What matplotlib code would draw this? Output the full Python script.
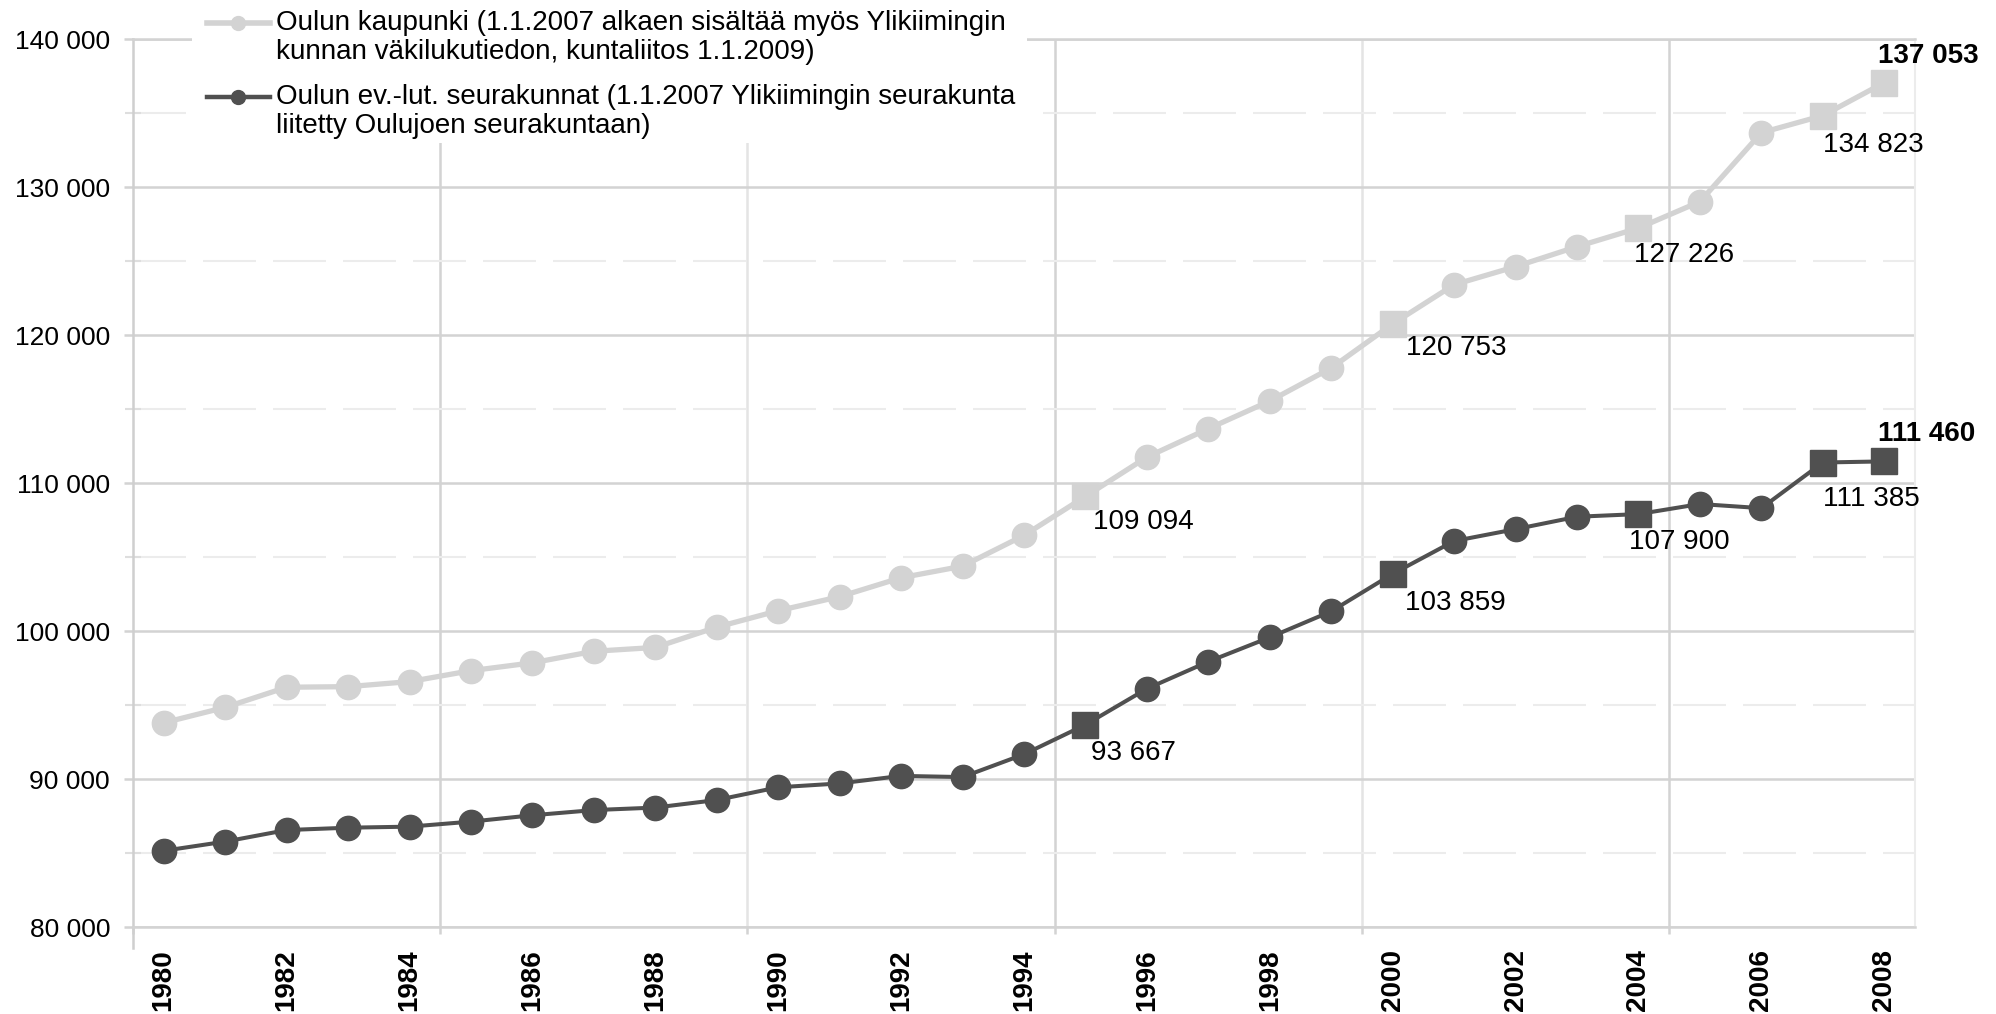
import numpy as np
import matplotlib.pyplot as plt
from matplotlib.lines import Line2D
from matplotlib.patches import Rectangle

plt.rcParams['font.family'] = ['Liberation Sans', 'DejaVu Sans']

years = list(range(1980, 2009))
kaupunki = [93800, 94840, 96200, 96240, 96580, 97320, 97850, 98630, 98890, 100260,
            101370, 102320, 103600, 104380, 106460, 109094, 111750, 113670, 115540, 117770,
            120753, 123400, 124620, 125970, 127226, 129010, 133670, 134823, 137053]
seurakunnat = [85150, 85770, 86550, 86710, 86780, 87120, 87550, 87900, 88070, 88580,
               89440, 89700, 90210, 90130, 91670, 93667, 96100, 97930, 99570, 101330,
               103859, 106080, 106880, 107720, 107900, 108580, 108300, 111385, 111460]
# vuodet joille arvo on kirjoitettu näkyviin (neliömerkki)
label_years = [1995, 2000, 2004, 2007, 2008]
legend_1 = ["Oulun kaupunki (1.1.2007 alkaen sisältää myös Ylikiimingin",
            "kunnan väkilukutiedon, kuntaliitos 1.1.2009)"]
legend_2 = ["Oulun ev.-lut. seurakunnat (1.1.2007 Ylikiimingin seurakunta",
            "liitetty Oulujoen seurakuntaan)"]

light = '#d3d3d3'
dark = '#505050'
grid_c = '#d3d3d3'
fs = 20

W, H = 1996, 1014
fig = plt.figure(figsize=(W / 100, H / 100), dpi=100)
ax = fig.add_axes([133 / W, 1 - 927 / H, (1915 - 133) / W, (927 - 39) / H])
ax.set_xlim(1979.5, 2008.5)
ax.set_ylim(80000, 140000)

# ruudukko
ax.set_yticks(np.arange(80000, 140001, 10000))
ax.set_yticks(np.arange(85000, 140000, 10000), minor=True)
ax.grid(axis='y', which='major', color=grid_c, lw=1.8, zorder=0)
ax.grid(axis='y', which='minor', color='#ececec', lw=1.5,
        linestyle=(0, (53 * 0.72 / 1.5, 17 * 0.72 / 1.5)), zorder=0)
for xv in np.arange(1984.5, 2008, 5):
    c = grid_c if (xv - 1984.5) % 10 == 0 else '#e4e4e4'
    ax.axvline(xv, color=c, lw=1.8, zorder=0)

for s in ['top', 'bottom']:
    ax.spines[s].set_color(grid_c)
    ax.spines[s].set_linewidth(1.8)
ax.spines['left'].set_color('#cfcfcf')
ax.spines['left'].set_linewidth(1.8)
ax.spines['left'].set_bounds(78600, 140000)
ax.spines['right'].set_color('#ececec')
ax.spines['right'].set_linewidth(1.5)

ax.set_xticks(years[::2])
ax.set_xticks(np.arange(1979.5, 2008, 5), minor=True)
ax.tick_params(axis='x', which='major', length=0, pad=16, labelsize=20,
               labelrotation=90)
ax.tick_params(axis='x', which='minor', length=5, width=1.8, color=grid_c)
for t in ax.get_xticklabels():
    t.set_fontweight('bold')
ax.tick_params(axis='y', which='major', length=6.5, width=1.8, color=grid_c,
               pad=10, labelsize=19)
ax.tick_params(axis='y', which='minor', direction='inout', length=11, width=1.5,
               color='#dedede')
ax.set_yticklabels([f"{v:,.0f}".replace(',', ' ') for v in ax.get_yticks()])

# sarjat
x = np.array(years)
sq = np.isin(x, label_years)
for vals, col, lw in [(kaupunki, light, 3.8), (seurakunnat, dark, 2.9)]:
    v = np.array(vals)
    ax.plot(x, v, color=col, lw=lw, zorder=3)
    ax.plot(x[~sq], v[~sq], 'o', color=col, ms=17.5, zorder=4)
    ax.plot(x[sq], v[sq], 's', color=col, ms=18.5, zorder=4)

# arvojen tekstit
offs_k = [(8, -26), (13, -24), (-4, -27), (0, -29), (-6, 27)]
offs_s = [(6, -28), (12, -29), (-9, -28), (0, -36), (-6, 27)]
for vals, offs in [(kaupunki, offs_k), (seurakunnat, offs_s)]:
    for yr, (dx, dy) in zip(label_years, offs):
        v = vals[years.index(yr)]
        ax.annotate(f"{v:,.0f}".replace(',', ' '), (yr, v), xytext=(dx, dy),
                    textcoords='offset pixels', ha='left', va='center', fontsize=fs,
                    fontweight='bold' if yr == label_years[-1] else 'normal',
                    color='black', zorder=6, annotation_clip=False)

# selite
fig.add_artist(Rectangle((192 / W, 1 - 143 / H), (1027 - 192) / W, 143 / H,
                         transform=fig.transFigure, facecolor='white',
                         edgecolor='none', zorder=5))
for (l1, l2), col, lw, yy in [(legend_1, light, 4.0, 23), (legend_2, dark, 3.2, 97)]:
    fig.add_artist(Line2D([207 / W, 270 / W], [1 - yy / H] * 2, color=col, lw=lw,
                          zorder=6))
    fig.add_artist(Line2D([238 / W], [1 - yy / H], marker='o', ms=10, color=col,
                          zorder=6))
    fig.text(276 / W, 1 - (yy + 7) / H, l1, fontsize=fs, va='baseline', zorder=6)
    fig.text(276 / W, 1 - (yy + 36) / H, l2, fontsize=fs, va='baseline', zorder=6)

fig.savefig('out.png', dpi=100)
